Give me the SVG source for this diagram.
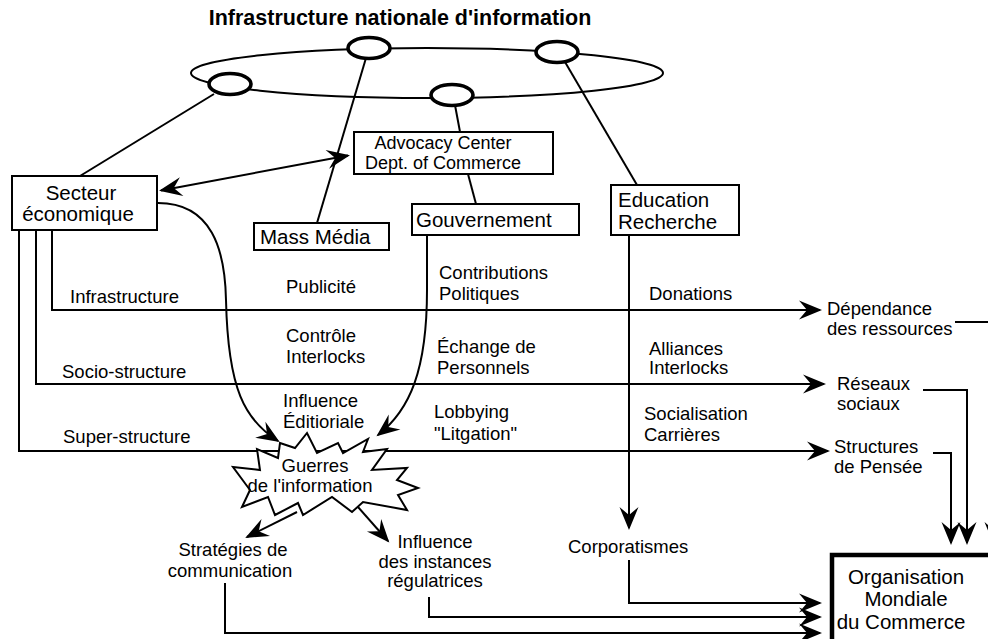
<svg xmlns="http://www.w3.org/2000/svg" width="988" height="639" viewBox="0 0 988 639">
<style>
text{font-family:"Liberation Sans",Arial,sans-serif;fill:#000}
.lb{font-size:18.5px}
.adv{font-size:18px}
.bx{font-size:20.5px}
.mid{text-anchor:middle}
.box{fill:#fff;stroke:#000;stroke-width:2}
.ln{fill:none;stroke:#000;stroke-width:2}
.arr{fill:none;stroke:#000;stroke-width:2;marker-end:url(#ah)}
.node{fill:#fff;stroke:#000;stroke-width:3.6}
</style>
<defs>
<marker id="ah" markerUnits="userSpaceOnUse" orient="auto-start-reverse" refX="-2" refY="0" markerWidth="30" markerHeight="30" overflow="visible">
<path d="M0,0 L-23,-9.5 L-15,0 L-23,9.5 Z" fill="#000"/>
</marker>
</defs>

<text x="400" y="25" font-size="21.5" font-weight="bold" text-anchor="middle">Infrastructure nationale d'information</text>

<g id="connectors">
<ellipse cx="427" cy="73" rx="236" ry="25" class="ln"/>
<line x1="214" y1="94" x2="80" y2="176" class="ln"/>
<line x1="366" y1="58" x2="317" y2="223" class="ln"/>
<line x1="455" y1="105" x2="460" y2="132" class="ln"/>
<line x1="565" y1="62" x2="637" y2="185" class="ln"/>
<line x1="468" y1="174" x2="476" y2="204" class="ln"/>
<path d="M161,190.5 L348,155.5" class="arr" marker-start="url(#ah)"/>
<path d="M52,230 V310 H820" class="arr"/>
<path d="M36,230 V384 H824" class="arr"/>
<path d="M19,230 V451 H828" class="arr"/>
<path d="M955,322 H994 V543" class="arr"/>
<path d="M923,390 H967 V543" class="arr"/>
<path d="M933,453 H951 V543" class="arr"/>
<path d="M629,235 V528" class="arr"/>
<path d="M427,235 V290 C427,370 410,410 378,435" class="arr"/>
<path d="M158,203 C212,203 225,250 226,300 C228,390 245,420 278,441" class="arr"/>
<path d="M297,512 L247,537" class="arr"/>
<path d="M358,507 L388,541" class="arr"/>
<path d="M629,560 V603 H820" class="arr"/>
<path d="M429,597 V617 H820" class="arr"/>
<path d="M225,583 V633 H820" class="arr"/>
</g>

<g id="nii-node-1"><ellipse cx="230" cy="84" rx="21" ry="10.5" class="node"/></g>
<g id="nii-node-2"><ellipse cx="369" cy="48" rx="21" ry="10.5" class="node"/></g>
<g id="nii-node-3"><ellipse cx="557" cy="52" rx="21" ry="10.5" class="node"/></g>
<g id="nii-node-4"><ellipse cx="452" cy="95" rx="21" ry="10.5" class="node"/></g>

<g id="advocacy">
<rect x="354" y="132" width="199" height="42" class="box"/>
<text x="443" y="149" class="adv mid">Advocacy Center</text>
<text x="443" y="168.5" class="adv mid">Dept. of Commerce</text>
</g>
<g id="secteur">
<rect x="12" y="176" width="145" height="54" class="box"/>
<text x="81" y="200" class="bx mid">Secteur</text>
<text x="78" y="221" class="bx mid">économique</text>
</g>
<g id="massmedia">
<rect x="254" y="223" width="135" height="27" class="box"/>
<text x="260" y="244" class="bx">Mass Média</text>
</g>
<g id="gouvernement">
<rect x="412" y="204" width="167" height="31" class="box"/>
<text x="416" y="227" class="bx">Gouvernement</text>
</g>
<g id="education">
<rect x="611" y="185" width="128" height="50" class="box"/>
<text x="618" y="207" class="bx">Education</text>
<text x="618" y="229" class="bx">Recherche</text>
</g>
<g id="omc">
<rect x="832" y="555" width="200" height="120" fill="#fff" stroke="#000" stroke-width="4.5"/>
<text x="906" y="584" class="bx mid">Organisation</text>
<text x="906" y="606" class="bx mid">Mondiale</text>
<text x="901" y="629" class="bx mid">du Commerce</text>
</g>

<g id="guerres">
<polygon points="280,443 295,448 307,433 317,453 338,443 343,453 368,439 363,452 387,449 372,470 407,468 397,480 418,488 398,495 407,510 363,502 352,512 332,497 303,515 298,503 275,515 268,497 242,507 250,490 233,467 260,470 257,449 278,458" fill="#fff" stroke="#000" stroke-width="2" stroke-linejoin="miter"/>
<text x="315" y="472" class="lb mid">Guerres</text>
<text x="310" y="492" class="lb mid">de l'information</text>
</g>

<g id="labels">
<text x="70" y="303" class="lb">Infrastructure</text>
<text x="62" y="378" class="lb">Socio-structure</text>
<text x="63" y="443" class="lb">Super-structure</text>
<text x="286" y="293" class="lb">Publicité</text>
<text x="286" y="342" class="lb">Contrôle</text>
<text x="286" y="363" class="lb">Interlocks</text>
<text x="283" y="407" class="lb">Influence</text>
<text x="283" y="428" class="lb">Éditioriale</text>
<text x="439" y="279" class="lb">Contributions</text>
<text x="439" y="300" class="lb">Politiques</text>
<text x="437" y="353" class="lb">Échange de</text>
<text x="437" y="374" class="lb">Personnels</text>
<text x="434" y="418" class="lb">Lobbying</text>
<text x="434" y="440" class="lb">"Litgation"</text>
<text x="649" y="300" class="lb">Donations</text>
<text x="649" y="355" class="lb">Alliances</text>
<text x="649" y="374" class="lb">Interlocks</text>
<text x="644" y="420" class="lb">Socialisation</text>
<text x="644" y="441" class="lb">Carrières</text>
</g>
<g id="dependance"><text x="827" y="315" class="lb">Dépendance</text><text x="827" y="335" class="lb">des ressources</text></g>
<g id="reseaux"><text x="837" y="390" class="lb">Réseaux</text><text x="837" y="410" class="lb">sociaux</text></g>
<g id="structures"><text x="834" y="453" class="lb">Structures</text><text x="834" y="473" class="lb">de Pensée</text></g>
<g id="strategies"><text x="233" y="556" class="lb mid">Stratégies de</text><text x="230" y="577" class="lb mid">communication</text></g>
<g id="influence-reg"><text x="435" y="548" class="lb mid">Influence</text><text x="435" y="568" class="lb mid">des instances</text><text x="435" y="587" class="lb mid">régulatrices</text></g>
<g id="corporatismes"><text x="568" y="553" class="lb">Corporatismes</text></g>
</svg>
